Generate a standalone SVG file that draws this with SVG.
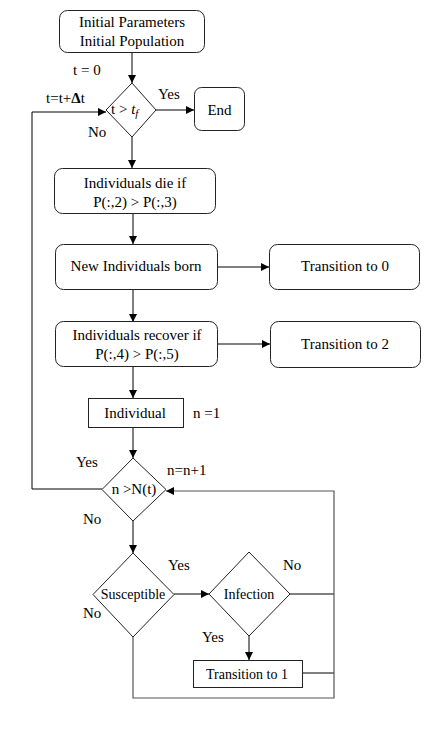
<svg xmlns="http://www.w3.org/2000/svg" width="439" height="731" viewBox="0 0 439 731">
<defs>
<marker id="arr" viewBox="0 0 10 10" refX="10" refY="5" markerWidth="8" markerHeight="8" markerUnits="userSpaceOnUse" orient="auto">
<path d="M0,0 L10,5 L0,10 Z" fill="#000"/>
</marker>
<style>
text{font-family:'Liberation Serif','DejaVu Serif',serif;font-size:15px;fill:#000}
.c{text-anchor:middle}
.s{font-size:14px}
.box{fill:#fff;stroke:#222;stroke-width:1}
.ln{fill:none;stroke:#000;stroke-width:1}
.gr{fill:none;stroke:#555;stroke-width:1.2}
</style>
</defs>
<rect width="439" height="731" fill="#fff"/>
<g id="connectors">
<path class="ln" d="M132,52 V83" marker-end="url(#arr)"/>
<path class="ln" d="M156,110 H194" marker-end="url(#arr)"/>
<path class="ln" d="M132,137 V168" marker-end="url(#arr)"/>
<path class="ln" d="M133,213 V244" marker-end="url(#arr)"/>
<path class="ln" d="M217,267 H269" marker-end="url(#arr)"/>
<path class="ln" d="M133,289 V322" marker-end="url(#arr)"/>
<path class="ln" d="M217,344 H270" marker-end="url(#arr)"/>
<path class="ln" d="M133,367 V398" marker-end="url(#arr)"/>
<path class="ln" d="M133,427 V458" marker-end="url(#arr)"/>
<path class="ln" d="M102,489 H32 V112 H106" marker-end="url(#arr)"/>
<path class="ln" d="M133,521 V553" marker-end="url(#arr)"/>
<path class="ln" d="M174,594 H209" marker-end="url(#arr)"/>
<path class="ln" d="M249,636 V660" marker-end="url(#arr)"/>
<path class="ln" d="M290,594 H334"/>
<path class="ln" d="M302,673 H334"/>
<path class="gr" d="M133,637 V698 H334 V491 H166" marker-end="url(#arr)"/>
</g>
<g id="init">
<rect class="box" x="59.5" y="10.5" width="145" height="42" rx="8"/>
<text class="c" x="132" y="27">Initial Parameters</text>
<text class="c" x="132" y="46">Initial Population</text>
</g>
<g id="check_t">
<path class="box" d="M132,83 L156,110 L132,137 L106,110 Z"/>
<text x="111" y="114">t &gt; <tspan font-style="italic">t</tspan><tspan font-style="italic" font-size="11" dy="3">f</tspan></text>
</g>
<g id="end">
<rect class="box" x="194.5" y="87.5" width="50" height="43" rx="7"/>
<text class="c" x="219.5" y="115">End</text>
</g>
<g id="die">
<rect class="box" x="54.5" y="168.5" width="161" height="45" rx="8"/>
<text class="c" x="135" y="188">Individuals die if</text>
<text class="c" x="135" y="207">P(:,2) &gt; P(:,3)</text>
</g>
<g id="born">
<rect class="box" x="55.5" y="244.5" width="162" height="45" rx="8"/>
<text class="c" x="136" y="271">New Individuals born</text>
</g>
<g id="t0">
<rect class="box" x="269.5" y="244.5" width="150" height="45" rx="8"/>
<text class="c" x="345" y="271">Transition to 0</text>
</g>
<g id="recover">
<rect class="box" x="55.5" y="321.5" width="162" height="45" rx="8"/>
<text class="c" x="137" y="340">Individuals recover if</text>
<text class="c" x="137" y="359">P(:,4) &gt; P(:,5)</text>
</g>
<g id="t2">
<rect class="box" x="270.5" y="321.5" width="150" height="46" rx="8"/>
<text class="c" x="345" y="349">Transition to 2</text>
</g>
<g id="individual">
<rect class="box" x="88.5" y="398.5" width="95" height="29"/>
<text class="c" x="135" y="418">Individual</text>
</g>
<g id="check_n">
<path class="box" d="M133,458 L166,489.5 L133,521 L102,489.5 Z"/>
<text class="c" x="134" y="494">n &gt;N(t)</text>
</g>
<g id="susceptible">
<path class="box" d="M133,553 L174,594.5 L133,637 L93,594.5 Z"/>
<text class="c s" x="133" y="599">Susceptible</text>
</g>
<g id="infection">
<path class="box" d="M249,552 L290,594 L249,636 L209,594 Z"/>
<text class="c s" x="249" y="599">Infection</text>
</g>
<g id="t1">
<rect class="box" x="193.5" y="660.5" width="109" height="27"/>
<text class="c s" x="247" y="679">Transition to 1</text>
</g>
<g id="labels">
<text x="73" y="75">t = 0</text>
<text x="158" y="99">Yes</text>
<text x="46" y="103">t=t+<tspan font-weight="bold">Δ</tspan>t</text>
<text x="88" y="137">No</text>
<text x="193" y="418">n =1</text>
<text x="76" y="467">Yes</text>
<text x="167" y="475">n=n+1</text>
<text x="83" y="524">No</text>
<text x="168" y="570">Yes</text>
<text x="283" y="570">No</text>
<text x="83" y="618">No</text>
<text x="202" y="642">Yes</text>
</g>
</svg>
